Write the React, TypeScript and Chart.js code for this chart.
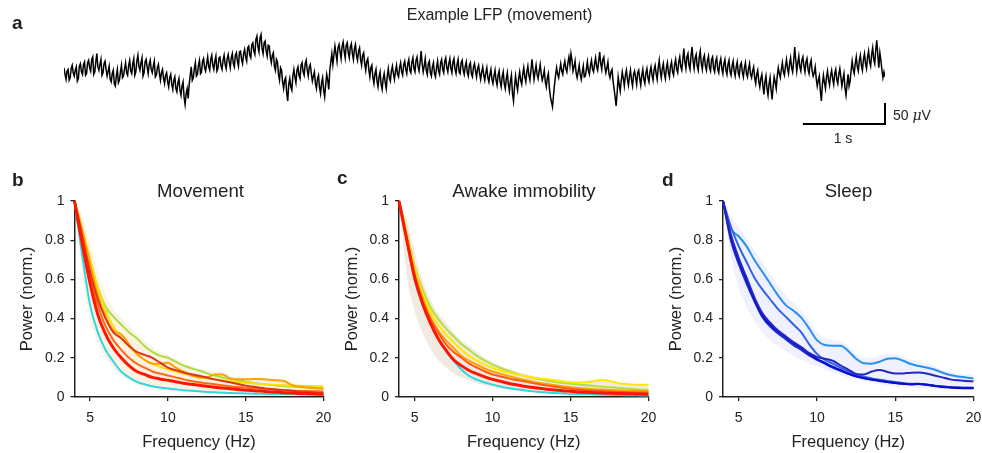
import React, { useEffect, useRef } from "react";
import { Chart, registerables } from "chart.js";

Chart.register(...registerables);

const FONT = "'Liberation Sans', Arial, Helvetica, sans-serif";
Chart.defaults.font.family = FONT;
Chart.defaults.color = "#222";

// ---------- a: example LFP (µV), one sample every 12.5 ms ----------
const lfpSampleStep = 0.0125;
const lfpSec0 = [10,-6,-18,2,6,-20,-14,8,16,-2,-10,4,12,-22,-16,14,20,0,-6,18,24,-8,-4,22,28,10,2,30,36,-6,0,24,44,12,4,18,30,-8,-2,20,26,6,-10,2,14,-18,-24,-4,4,-28,-34,-10,6,-26,-20,0,16,-14,-10,8,22,-2,-8,16,28,2,-4,20,32,-8,0,26,40,14,4,22,34,-10,-2,24];
const lfpSec1 = [30,12,-4,18,28,6,-2,14,26,-12,-8,10,18,-4,-20,-2,6,-16,-28,-8,-2,-24,-36,-14,-6,-30,-42,-20,-12,-40,-48,-26,-16,-44,-56,-34,-24,-60,-78,-52,-40,-64,-30,-8,12,-20,-14,8,22,-10,-6,16,28,-4,0,26,32,10,2,20,36,12,4,30,40,16,6,26,38,2,8,34,36,14,6,28,40,18,8,32];
const lfpSec2 = [42,24,10,34,44,20,12,40,46,26,14,48,50,30,20,44,54,36,26,58,62,40,34,66,70,50,42,78,86,60,48,82,90,56,44,70,74,50,38,64,62,36,22,40,46,14,4,30,24,-6,-20,10,4,-24,-40,-20,-14,-50,-70,-30,-16,-36,-44,-10,6,-12,-26,4,12,-8,-16,16,22,0,-8,20,28,4,-10,12];
const lfpSec3 = [18,-4,-22,-10,0,-28,-40,-16,-8,-38,-52,-26,-14,-44,-60,-30,-6,-20,-42,4,24,44,18,40,62,44,26,58,66,48,32,62,72,50,34,64,70,46,34,60,68,44,30,56,66,40,28,50,58,30,16,40,46,20,4,26,32,6,-12,10,16,-14,-28,-4,6,-22,-36,-12,0,-30,-42,-16,-4,-26,-40,-10,8,-14,-22,2];
const lfpSec4 = [14,-4,-18,2,16,-6,-12,10,22,0,-8,18,26,6,-4,20,30,4,-2,24,34,8,0,28,36,12,2,24,50,20,0,14,32,4,-6,20,26,-2,-10,12,22,-4,-12,10,26,2,-6,22,30,6,-2,26,34,10,0,20,32,8,-2,24,32,6,-4,18,30,0,-4,22,28,4,-6,14,24,-2,-10,16,22,-6,-12,12];
const lfpSec5 = [20,2,-12,8,16,-4,-18,0,12,-8,-20,-2,10,-14,-24,-6,6,-18,-28,-10,4,-20,-32,-8,2,-24,-36,-12,0,-28,-40,-16,-2,-30,-46,-22,-8,-52,-70,-36,-10,-30,-44,-16,0,-20,-30,-6,10,-12,-24,0,14,-8,-20,4,30,6,-18,0,16,-6,-16,2,18,-4,-20,-10,4,-24,-36,-14,-4,-40,-60,-72,-84,-56,-30,-8];
const lfpSec6 = [10,-6,-14,4,20,2,-6,14,26,8,0,22,36,16,44,28,2,12,26,-2,-14,0,16,-6,-18,-2,14,-12,-10,6,24,2,-6,16,28,6,0,20,34,12,4,26,48,20,6,30,36,12,-2,10,24,-4,-14,0,6,-22,-40,-60,-82,-50,-12,-30,-46,-20,0,-16,-34,-8,4,-18,-32,-10,4,-20,-34,-6,2,-14,-30,-2];
const lfpSec7 = [4,-16,-32,-8,6,-18,-28,-2,8,-14,-24,0,12,-8,-20,6,16,-4,-18,10,28,2,-14,8,20,-4,-16,10,22,-2,-12,14,24,0,-8,18,30,6,-2,24,36,12,4,30,56,24,8,36,44,16,6,40,60,26,8,34,42,14,4,36,50,20,6,32,40,14,4,28,38,10,2,30,36,8,0,26,34,6,-2,22];
const lfpSec8 = [32,8,-4,20,30,4,-6,18,28,0,-8,14,26,2,-10,12,24,-2,-10,16,22,0,-12,10,22,-4,-12,8,20,-6,-14,2,12,-14,-28,-6,4,-22,-36,-16,-6,-32,-54,-24,-10,-40,-56,-30,-14,-44,-66,-36,-12,-24,-40,-10,10,-4,-14,6,22,0,-8,14,30,8,-4,20,34,10,0,26,60,30,2,22,38,12,2,28];
const lfpSec9 = [36,14,0,24,32,6,-4,18,28,2,-10,-2,12,-16,-34,-20,-10,-46,-70,-30,-8,-26,-40,-12,2,-20,-32,-8,4,-16,-30,-4,6,-18,-28,-6,8,-12,-34,-18,-4,-38,-56,-30,-6,-34,-22,4,26,6,-4,20,36,12,2,28,40,16,4,30,44,20,8,36,50,24,14,42,58,30,20,54,76,40,10,46,28,4,-14,0,-12];
const lfpTrace = [...lfpSec0, ...lfpSec1, ...lfpSec2, ...lfpSec3, ...lfpSec4, ...lfpSec5, ...lfpSec6, ...lfpSec7, ...lfpSec8, ...lfpSec9];
// scale bar: 1 s horizontal, 50 µV vertical
const scaleBarTime = [9, 10, 10];
const scaleBarUv = [-125, -125, -75];

// ---------- b–d: normalised power spectra ----------
const freqHz = [4,4.5,5,5.5,6,6.5,7,7.5,8,8.5,9,9.5,10,10.5,11,11.5,12,12.5,13,13.5,14,14.5,15,15.5,16,16.5,17,17.5,18,18.5,19,19.5,20];
const xTickHz = [5, 10, 15, 20];
const yTickPower = [0, 0.2, 0.4, 0.6, 0.8, 1];

// Movement
const movRed = [1.0,0.78,0.58,0.42,0.32,0.25,0.2,0.16,0.13,0.115,0.1,0.092,0.085,0.078,0.07,0.065,0.06,0.055,0.05,0.046,0.042,0.038,0.035,0.032,0.03,0.027,0.025,0.022,0.02,0.018,0.017,0.015,0.014];
const movDarkRed = [1.0,0.82,0.64,0.5,0.4,0.33,0.3,0.26,0.23,0.215,0.2,0.175,0.15,0.137,0.125,0.116,0.108,0.099,0.09,0.082,0.075,0.066,0.058,0.052,0.047,0.042,0.038,0.034,0.03,0.027,0.024,0.022,0.02];
const movOrangeRed = [1.0,0.8,0.62,0.47,0.36,0.29,0.24,0.2,0.17,0.15,0.13,0.12,0.11,0.1,0.09,0.082,0.075,0.07,0.065,0.06,0.055,0.051,0.048,0.045,0.042,0.04,0.037,0.035,0.033,0.031,0.03,0.029,0.028];
const movAmber = [1.0,0.85,0.68,0.52,0.41,0.34,0.32,0.27,0.22,0.19,0.17,0.17,0.175,0.15,0.13,0.112,0.1,0.1,0.115,0.115,0.095,0.09,0.09,0.092,0.092,0.088,0.085,0.08,0.06,0.052,0.048,0.045,0.042];
const movYellow = [1.0,0.86,0.7,0.55,0.44,0.36,0.3,0.26,0.22,0.19,0.17,0.155,0.14,0.13,0.12,0.11,0.1,0.095,0.09,0.085,0.08,0.076,0.072,0.069,0.066,0.064,0.062,0.06,0.058,0.057,0.056,0.055,0.054];
const movYellowGreen = [1.0,0.85,0.7,0.56,0.46,0.41,0.37,0.33,0.3,0.26,0.23,0.21,0.2,0.18,0.16,0.147,0.135,0.122,0.11,0.1,0.092,0.085,0.078,0.072,0.066,0.062,0.058,0.055,0.052,0.05,0.048,0.046,0.045];
const movCyan = [1.0,0.72,0.47,0.33,0.24,0.18,0.13,0.1,0.077,0.065,0.055,0.048,0.043,0.039,0.035,0.032,0.029,0.026,0.024,0.022,0.02,0.019,0.018,0.017,0.016,0.0155,0.015,0.0145,0.014,0.0135,0.013,0.0125,0.012];
const movBandHigh = [1,0.92,0.78,0.63,0.52,0.45,0.4,0.36,0.32,0.285,0.255,0.23,0.215,0.195,0.175,0.16,0.145,0.135,0.13,0.125,0.108,0.1,0.097,0.098,0.098,0.095,0.092,0.088,0.072,0.064,0.06,0.058,0.056];
const movBandLow = [1,0.64,0.4,0.28,0.2,0.15,0.11,0.085,0.065,0.055,0.046,0.04,0.035,0.031,0.028,0.025,0.022,0.02,0.018,0.016,0.015,0.014,0.013,0.012,0.011,0.011,0.01,0.01,0.009,0.009,0.008,0.008,0.008];

// Awake immobility
const awkRed = [1,0.8,0.61,0.48,0.38,0.3,0.24,0.19,0.16,0.135,0.118,0.103,0.09,0.08,0.07,0.062,0.055,0.05,0.045,0.04,0.036,0.032,0.029,0.026,0.024,0.022,0.02,0.019,0.018,0.017,0.016,0.015,0.014];
const awkOrangeRed = [1,0.81,0.62,0.49,0.4,0.33,0.27,0.23,0.2,0.17,0.15,0.13,0.115,0.105,0.095,0.087,0.08,0.072,0.065,0.058,0.052,0.047,0.042,0.038,0.035,0.032,0.03,0.028,0.026,0.025,0.024,0.023,0.022];
const awkAmber = [1,0.82,0.64,0.51,0.41,0.34,0.29,0.25,0.21,0.185,0.165,0.145,0.13,0.118,0.107,0.097,0.088,0.08,0.072,0.066,0.06,0.055,0.05,0.046,0.043,0.04,0.038,0.036,0.034,0.033,0.032,0.031,0.03];
const awkYellow = [1,0.83,0.66,0.53,0.44,0.37,0.32,0.28,0.24,0.21,0.185,0.165,0.148,0.135,0.125,0.116,0.108,0.1,0.095,0.09,0.085,0.08,0.075,0.074,0.075,0.08,0.088,0.082,0.072,0.066,0.063,0.062,0.062];
const awkYellowGreen = [1,0.84,0.67,0.55,0.46,0.4,0.35,0.31,0.27,0.24,0.21,0.185,0.165,0.148,0.133,0.12,0.108,0.098,0.09,0.083,0.077,0.072,0.068,0.064,0.06,0.056,0.053,0.05,0.047,0.044,0.041,0.038,0.036];
const awkCyan = [1,0.8,0.6,0.47,0.38,0.3,0.235,0.185,0.14,0.107,0.088,0.074,0.063,0.054,0.046,0.04,0.035,0.03,0.026,0.023,0.02,0.018,0.016,0.015,0.014,0.013,0.012,0.011,0.01,0.009,0.009,0.008,0.008];
const awkBandHigh = [1,0.9,0.74,0.6,0.5,0.43,0.38,0.33,0.29,0.26,0.23,0.2,0.18,0.16,0.145,0.13,0.12,0.11,0.1,0.093,0.087,0.082,0.078,0.078,0.08,0.085,0.092,0.087,0.077,0.07,0.067,0.066,0.066];
const awkBandLow = [1,0.62,0.44,0.33,0.25,0.19,0.15,0.12,0.1,0.085,0.07,0.06,0.05,0.043,0.037,0.032,0.028,0.024,0.021,0.019,0.017,0.015,0.013,0.012,0.011,0.01,0.009,0.008,0.007,0.007,0.006,0.006,0.005];

// Sleep
const slpLightBlue = [1,0.86,0.82,0.77,0.7,0.64,0.58,0.52,0.47,0.44,0.405,0.35,0.29,0.265,0.262,0.262,0.235,0.195,0.172,0.17,0.18,0.195,0.198,0.185,0.168,0.158,0.15,0.14,0.125,0.112,0.105,0.1,0.095];
const slpMidBlue = [1,0.87,0.77,0.69,0.61,0.55,0.5,0.45,0.41,0.37,0.33,0.27,0.22,0.19,0.17,0.15,0.13,0.115,0.103,0.095,0.088,0.082,0.076,0.071,0.067,0.066,0.063,0.058,0.053,0.05,0.048,0.047,0.046];
const slpBump = [1,0.83,0.71,0.61,0.51,0.43,0.38,0.34,0.31,0.28,0.255,0.225,0.205,0.195,0.185,0.162,0.14,0.118,0.115,0.13,0.138,0.128,0.12,0.12,0.124,0.125,0.12,0.11,0.1,0.09,0.085,0.082,0.08];
const slpNavy = [1,0.82,0.7,0.6,0.5,0.42,0.37,0.335,0.305,0.275,0.25,0.22,0.195,0.175,0.155,0.138,0.12,0.105,0.095,0.088,0.082,0.076,0.071,0.067,0.064,0.066,0.062,0.056,0.051,0.048,0.046,0.045,0.045];
const slpBlue2 = [1,0.8,0.68,0.58,0.49,0.41,0.36,0.325,0.295,0.265,0.24,0.212,0.19,0.17,0.15,0.134,0.118,0.106,0.097,0.09,0.083,0.077,0.072,0.068,0.066,0.068,0.064,0.058,0.053,0.05,0.048,0.047,0.047];
const slpBandHigh = [1,0.92,0.87,0.81,0.75,0.69,0.63,0.57,0.52,0.48,0.44,0.39,0.33,0.3,0.29,0.285,0.26,0.22,0.2,0.2,0.21,0.22,0.22,0.205,0.19,0.18,0.17,0.16,0.14,0.128,0.12,0.115,0.11];
const slpBandLow = [1,0.72,0.56,0.46,0.39,0.33,0.29,0.26,0.235,0.21,0.19,0.17,0.155,0.14,0.125,0.112,0.1,0.09,0.081,0.073,0.066,0.06,0.055,0.051,0.048,0.046,0.044,0.042,0.04,0.038,0.036,0.035,0.034];

type Series = { values: number[]; color: string; width: number };

function lfpConfig(): any {
  return {
    type: "line",
    data: {
      datasets: [
        {
          data: lfpTrace.map((v, i) => ({ x: i * lfpSampleStep, y: v })),
          borderColor: "#000",
          borderWidth: 1.5,
          pointRadius: 0,
          tension: 0,
        },
        {
          data: scaleBarTime.map((t, i) => ({ x: t, y: scaleBarUv[i] })),
          borderColor: "#000",
          borderWidth: 2,
          pointRadius: 0,
          tension: 0,
          clip: false,
        },
      ],
    },
    options: {
      animation: false,
      responsive: false,
      events: [],
      layout: { padding: { left: 64, right: 97, top: 22, bottom: 34 } },
      plugins: { legend: { display: false }, tooltip: { enabled: false } },
      scales: {
        x: { type: "linear", display: false, min: 0, max: 10 },
        y: { type: "linear", display: false, min: -130, max: 120 },
      },
    },
  };
}

function spectrumConfig(series: Series[], bandHigh: number[], bandLow: number[], bandColor: string, chartLeft: number, padRight: number): any {
  const pts = (arr: number[]) => freqHz.map((f, i) => ({ x: f, y: arr[i] }));
  const datasets: any[] = series.map((s) => ({
    data: pts(s.values),
    borderColor: s.color,
    borderWidth: s.width,
    pointRadius: 0,
    cubicInterpolationMode: "monotone",
    fill: false,
    clip: false,
  }));
  datasets.push({
    data: pts(bandHigh),
    borderWidth: 0,
    borderColor: "rgba(0,0,0,0)",
    backgroundColor: bandColor,
    pointRadius: 0,
    cubicInterpolationMode: "monotone",
    fill: "+1",
  });
  datasets.push({
    data: pts(bandLow),
    borderWidth: 0,
    borderColor: "rgba(0,0,0,0)",
    pointRadius: 0,
    cubicInterpolationMode: "monotone",
    fill: false,
  });
  const axisColor = "#222";
  return {
    type: "line",
    data: { datasets },
    options: {
      animation: false,
      responsive: false,
      events: [],
      layout: { padding: { left: 0, right: padRight, top: 41, bottom: 0 } },
      plugins: { legend: { display: false }, tooltip: { enabled: false } },
      scales: {
        x: {
          type: "linear",
          min: 4,
          max: 20,
          afterBuildTicks: (axis: any) => {
            axis.ticks = xTickHz.map((value) => ({ value }));
          },
          afterFit: (axis: any) => {
            axis.height = 56;
            axis.paddingLeft = 0;
            axis.paddingRight = 0;
          },
          ticks: { font: { size: 14 }, color: axisColor, padding: 9, maxRotation: 0 },
          grid: { drawOnChartArea: false, drawTicks: true, tickLength: 4, color: axisColor, lineWidth: 1.3 },
          border: { display: true, color: axisColor, width: 1.5 },
          title: { display: true, text: "Frequency (Hz)", color: axisColor, font: { size: 16.5 }, padding: { top: 0, bottom: 1 } },
        },
        y: {
          type: "linear",
          min: 0,
          max: 1,
          afterBuildTicks: (axis: any) => {
            axis.ticks = yTickPower.map((value) => ({ value }));
          },
          afterFit: (axis: any) => {
            axis.width = chartLeft;
            axis.paddingTop = 0;
            axis.paddingBottom = 0;
          },
          ticks: {
            font: { size: 14 },
            color: axisColor,
            padding: 6,
            callback: (v: any) => String(Math.round(Number(v) * 10) / 10),
          },
          grid: { drawOnChartArea: false, drawTicks: true, tickLength: 4, color: axisColor, lineWidth: 1.3 },
          border: { display: true, color: axisColor, width: 1.5 },
          title: { display: true, text: "Power (norm.)", color: axisColor, font: { size: 16.5 }, padding: { top: 18, bottom: 0 } },
        },
      },
    },
  };
}

function ChartBox({ left, top, width, height, make }: { left: number; top: number; width: number; height: number; make: () => any }) {
  const ref = useRef<HTMLCanvasElement>(null);
  useEffect(() => {
    const chart = new Chart(ref.current as HTMLCanvasElement, make());
    return () => chart.destroy();
  }, []);
  return (
    <div style={{ position: "absolute", left, top, width, height }}>
      <canvas ref={ref} width={width} height={height} style={{ width, height, display: "block" }} />
    </div>
  );
}

function Txt({ x, base, size, bold = false, center = false, children }: any) {
  return (
    <div
      style={{
        position: "absolute",
        left: x,
        top: base - 0.846 * size,
        fontSize: size,
        lineHeight: 1,
        fontWeight: bold ? 700 : 400,
        whiteSpace: "nowrap",
        transform: center ? "translateX(-50%)" : undefined,
      }}
    >
      {children}
    </div>
  );
}

export default function App() {
  const movSeries: Series[] = [
    { values: movRed, color: "#ff1500", width: 3 },
    { values: movDarkRed, color: "#d8381a", width: 2 },
    { values: movOrangeRed, color: "#ff6a10", width: 2 },
    { values: movAmber, color: "#ffa000", width: 2 },
    { values: movYellow, color: "#ffe000", width: 2 },
    { values: movYellowGreen, color: "#a8e040", width: 2 },
    { values: movCyan, color: "#2ed8e0", width: 2 },
  ];
  const awkSeries: Series[] = [
    { values: awkRed, color: "#ff1500", width: 3 },
    { values: awkOrangeRed, color: "#ff5a10", width: 2 },
    { values: awkAmber, color: "#ffa000", width: 2 },
    { values: awkYellow, color: "#ffe800", width: 2 },
    { values: awkYellowGreen, color: "#b0e040", width: 2 },
    { values: awkCyan, color: "#2ed8e0", width: 2 },
  ];
  const slpSeries: Series[] = [
    { values: slpBump, color: "#2626c4", width: 2 },
    { values: slpNavy, color: "#0c0cc8", width: 2 },
    { values: slpBlue2, color: "#1a30d8", width: 2 },
    { values: slpMidBlue, color: "#2e64e4", width: 2 },
    { values: slpLightBlue, color: "#2a90f0", width: 2 },
  ];

  return (
    <div
      style={{
        position: "absolute",
        left: 0,
        top: 0,
        width: 982,
        height: 453,
        overflow: "hidden",
        background: "#fff",
        fontFamily: FONT,
        color: "#222",
      }}
    >
      <ChartBox left={0} top={0} width={982} height={160} make={lfpConfig} />
      <ChartBox
        left={0}
        top={160}
        width={340}
        height={293}
        make={() => spectrumConfig(movSeries, movBandHigh, movBandLow, "rgba(240,190,120,0.2)", 74.5, 16.5)}
      />
      <ChartBox
        left={325}
        top={160}
        width={340}
        height={293}
        make={() => spectrumConfig(awkSeries, awkBandHigh, awkBandLow, "rgba(190,160,120,0.22)", 74, 16.5)}
      />
      <ChartBox
        left={649}
        top={160}
        width={333}
        height={293}
        make={() => spectrumConfig(slpSeries, slpBandHigh, slpBandLow, "rgba(140,150,255,0.13)", 74, 8.5)}
      />

      <Txt x={12} base={29} size={19} bold>a</Txt>
      <Txt x={499.5} base={21} size={16} center>Example LFP (movement)</Txt>
      <Txt x={893} base={120} size={14}>
        50 <i style={{ fontFamily: "'DejaVu Serif', serif" }}>μ</i>V
      </Txt>
      <Txt x={843} base={143} size={14} center>1 s</Txt>

      <Txt x={12} base={186} size={19} bold>b</Txt>
      <Txt x={337} base={184} size={19} bold>c</Txt>
      <Txt x={662} base={186} size={19} bold>d</Txt>

      <Txt x={200.5} base={198} size={18.6} center>Movement</Txt>
      <Txt x={524} base={198} size={18.6} center>Awake immobility</Txt>
      <Txt x={848.5} base={198} size={18.6} center>Sleep</Txt>
    </div>
  );
}
